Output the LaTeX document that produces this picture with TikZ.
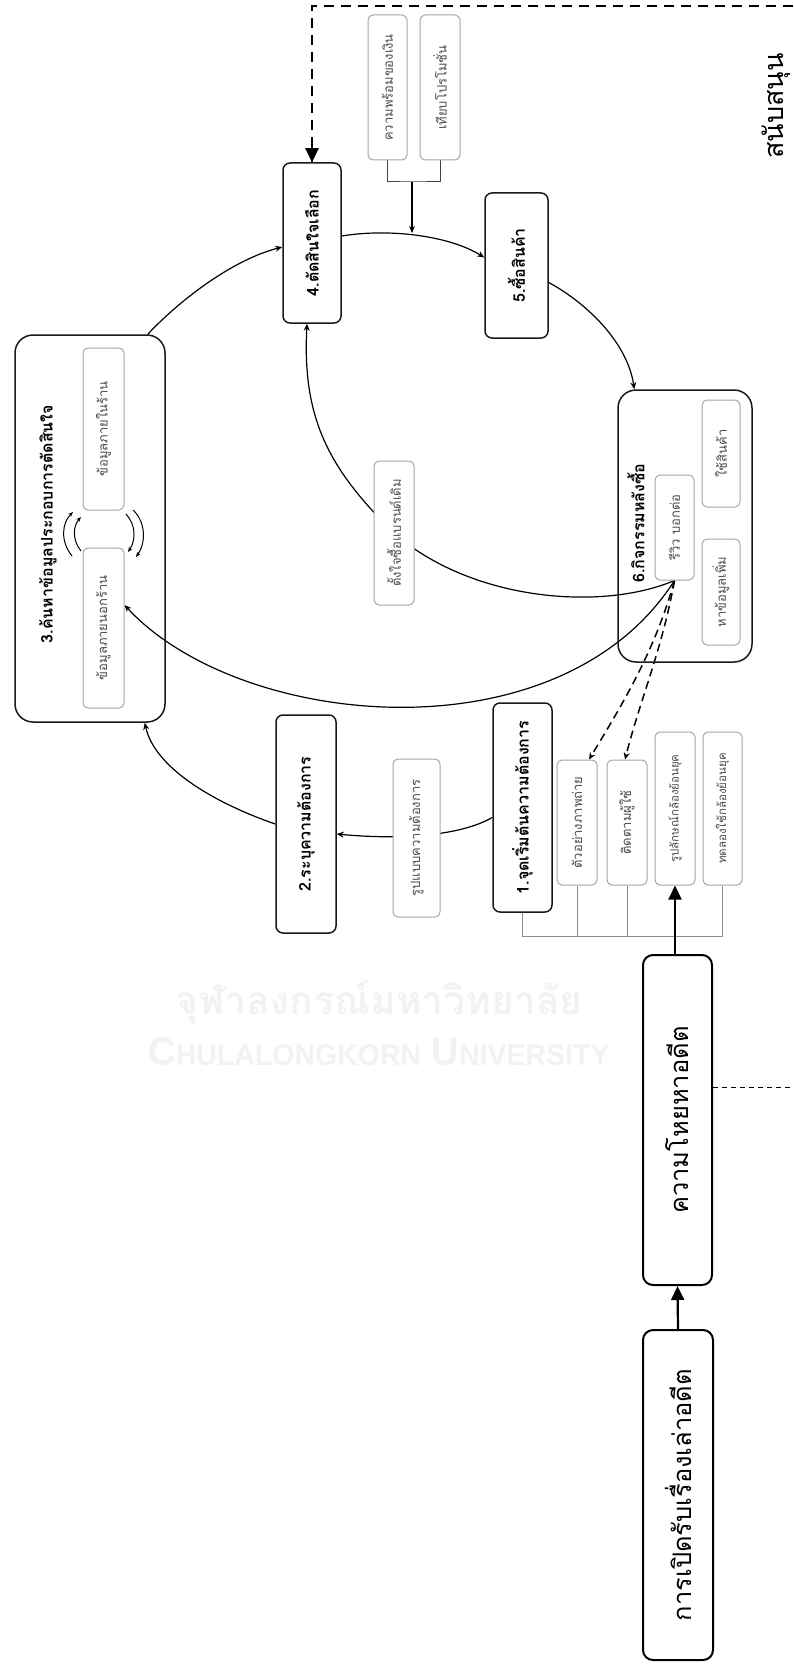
\documentclass[tikz,border=0pt]{standalone}
\usepackage{fontspec}
\usepackage{graphicx}
\usetikzlibrary{arrows.meta,backgrounds}
\newfontfamily\thai[Script=Thai]{Loma}
\newfontfamily\latinwm{Liberation Sans}

\tikzset{
  stepbox/.style={draw=black!90, line width=1.5pt, rounded corners=7pt, fill=white, inner sep=0pt},
  steptext/.style={inner sep=0pt, font=\thai\bfseries\fontsize{16}{16}\selectfont},
  bigstep/.style={draw=black!90, line width=1.5pt, rounded corners=18pt, inner sep=0pt},
  graybox/.style={draw=black!35, line width=1pt, rounded corners=5pt, fill=white, inner sep=0pt},
  graytext/.style={inner sep=0pt, text=black!70, font=\thai\fontsize{13}{13}\selectfont},
  graysmall/.style={graytext, font=\thai\fontsize{11.5}{11.5}\selectfont},
  framebox/.style={draw=black, line width=2pt, rounded corners=10pt, fill=white, inner sep=0pt},
  frametext/.style={inner sep=0pt, font=\thai\fontsize{25.5}{25.5}\selectfont},
  wm/.style={inner sep=0pt, text=black!5},
  flow/.style={line width=1.2pt, -{Stealth[length=7pt,width=6pt]}},
  cycle/.style={line width=1pt, -{Stealth[length=5pt,width=4pt]}},
  reviewlink/.style={line width=1.5pt, dash pattern=on 8pt off 5pt, -{Stealth[length=7pt,width=6pt]}},
  darkbracket/.style={draw=black!75, line width=1pt},
  graybracket/.style={draw=black!45, line width=1pt},
  bigarrow/.style={line width=2.2pt, -{Triangle[length=14pt,width=13pt]}},
  supportline/.style={line width=2.5pt, dash pattern=on 10pt off 7pt},
  linkline/.style={line width=1pt, dash pattern=on 5pt off 4pt},
}

% a frame given by its corners (x1,y1) (x2,y2)
\newcommand\placeframe[6]{%
  \pgfmathsetmacro\bxw{#5-#3}\pgfmathsetmacro\bxh{#6-#4}%
  \pgfmathsetmacro\bxx{(#3+#5)/2}\pgfmathsetmacro\bxy{(#4+#6)/2}%
  \node[#1, minimum width=\bxw pt, minimum height=\bxh pt] (#2) at (\bxx,\bxy) {};}
% the same frame with a text running upwards in its middle
\newcommand\placebox[8]{%
  \placeframe{#1}{#3}{#4}{#5}{#6}{#7}%
  \node[#2, rotate=90] (#3-text) at (#3.center) {#8};}

\begin{document}
\begin{tikzpicture}[x=1pt,y=-1pt]
\useasboundingbox (0,0) rectangle (793,1664);

% faint institutional mark
\node[wm, font=\thai\bfseries\fontsize{39}{39}\selectfont] (wmth) at (379,1002) {จุฬาลงกรณ์มหาวิทยาลัย};
\node[wm, font=\latinwm\bfseries\fontsize{40}{40}\selectfont] (wmen) at (379,1052)
  {\scalebox{0.95}[1]{C{\fontsize{30}{30}\selectfont HULALONGKORN} U{\fontsize{30}{30}\selectfont NIVERSITY}}};

% decision steps
\placebox{stepbox}{steptext}{s4}{283}{163}{341}{323}{4.ตัดสินใจเลือก}
\placebox{stepbox}{steptext}{s5}{485}{193}{548}{338}{5.ซื้อสินค้า}
\placebox{stepbox}{steptext}{s2}{276}{715}{336}{933}{2.ระบุความต้องการ}
\placebox{stepbox}{steptext}{s1}{493}{703}{552}{912}{1.จุดเริ่มต้นความต้องการ}

% factors before buying
\placebox{graybox}{graytext}{gmoney}{368}{15}{407}{160}{ความพร้อมของเงิน}
\placebox{graybox}{graytext}{gpromo}{420}{15}{460}{160}{เทียบโปรโมชั่น}

% step 3 container
\placeframe{bigstep}{b3}{15}{335}{165}{722}
\node[steptext, rotate=90] (t3) at (48,524) {3.ค้นหาข้อมูลประกอบการตัดสินใจ};
\placebox{graybox}{graytext}{gin}{83}{348}{124}{510}{ข้อมูลภายในร้าน}
\placebox{graybox}{graytext}{gout}{83}{548}{124}{708}{ข้อมูลภายนอกร้าน}

% step 6 container
\placeframe{bigstep}{b6}{618}{390}{752}{662}
\node[steptext, rotate=90] (t6) at (636,523) {6.กิจกรรมหลังซื้อ};
\placebox{graybox}{graytext}{grev}{655}{475}{694}{580}{รีวิว บอกต่อ}
\placebox{graybox}{graytext}{guse}{702}{400}{740}{507}{ใช้สินค้า}
\placebox{graybox}{graytext}{gmore}{702}{539}{740}{645}{หาข้อมูลเพิ่ม}

\placebox{graybox}{graytext}{gbrand}{374}{461}{414}{605}{ตั้งใจซื้อแบรนด์เดิม}
\placebox{graybox}{graytext}{gform}{393}{759}{440}{917}{รูปแบบความต้องการ}

% starting points of need
\placebox{graybox}{graytext}{ga}{557}{760}{597}{885}{ตัวอย่างภาพถ่าย}
\placebox{graybox}{graytext}{gb}{607}{760}{647}{885}{ติดตามผู้ใช้}
\placebox{graybox}{graysmall}{gc}{655}{732}{695}{885}{รูปลักษณ์กล้องย้อนยุค}
\placebox{graybox}{graysmall}{gd}{703}{732}{742}{885}{ทดลองใช้กล้องย้อนยุค}

% nostalgia frame
\placebox{framebox}{frametext}{nost}{643}{955}{712}{1285}{ความโหยหาอดีต}
\placebox{framebox}{frametext}{story}{643}{1330}{713}{1660}{การเปิดรับเรื่องเล่าอดีต}
\node[inner sep=0pt, rotate=90, font=\thai\fontsize{27}{27}\selectfont] (support) at (776,106) {สนับสนุน};

\coordinate (supedge) at (793,6);
\coordinate (supcorner) at (312,6);
\coordinate (moneyjoin) at (412,182);
\coordinate (moneytip) at (412,233);
\coordinate (needjoin) at (522,936);
\coordinate (linkedge) at (793,1087);

\begin{scope}[on background layer]
  % main cycle
  \draw[flow] ([xshift=-18]b3.north east) .. controls (180,300) and (232,260) .. ([yshift=-4]s4.west);
  \draw[flow] ([yshift=7]s4.east) .. controls (390,228) and (450,236) .. ([yshift=8]s5.west);
  \draw[flow] ([yshift=-17]s5.east) .. controls (590,305) and (628,345) .. ([xshift=17]b6.north west);
  \draw[flow] ([yshift=-10]s1.west) .. controls (460,836) and (400,840) .. ([yshift=-10]s2.east);
  \draw[flow] (s2.west) .. controls (220,805) and (155,770) .. ([xshift=-21]b3.south east);

  % feedback from reviews
  \draw[flow] (grev.south) .. controls (560,760) and (240,730) .. ([yshift=23]gout.east);
  \draw[flow] (grev.south) .. controls (600,612) and (470,600) .. (gbrand.center)
                            .. controls (330,470) and (302,420) .. ([xshift=-5]s4.south);
  \draw[reviewlink] (grev.south) .. controls (655,650) and (625,700) .. ([xshift=12]ga.north);
  \draw[reviewlink] (grev.south) .. controls (662,650) and (640,700) .. ([xshift=-2]gb.north);

  % exchange between information sources
  \draw[cycle] (72,556) .. controls (60,541) and (62,523) .. (73,512);
  \draw[cycle] (81,551) .. controls (72,540) and (73,526) .. (81,517);
  \draw[cycle] (133,510) .. controls (146,522) and (146,543) .. (136,557);
  \draw[cycle] (126,514) .. controls (136,525) and (136,540) .. (128,552);

  % brackets
  \draw[darkbracket] (gmoney.south) |- (moneyjoin) -| (gpromo.south);
  \draw[flow] (moneyjoin) -- (moneytip);
  \draw[graybracket] (s1.south) |- (needjoin) -| (gd.south);
  \draw[graybracket] (ga.south) -- (ga.south |- needjoin);
  \draw[graybracket] (gb.south) -- (gb.south |- needjoin);

  % nostalgia links
  \draw[bigarrow] (story.north) -- (nost.south);
  \draw[bigarrow] (gc.south |- nost.north) -- (gc.south);
  \draw[linkline] (nost.east |- linkedge) -- (linkedge);
  \draw[supportline] (supedge) -- (supcorner) -- (supcorner |- s4.north);
  \draw[bigarrow, shorten <=10pt] ([yshift=10]s4.north) -- (s4.north);
\end{scope}
\end{tikzpicture}
\end{document}
